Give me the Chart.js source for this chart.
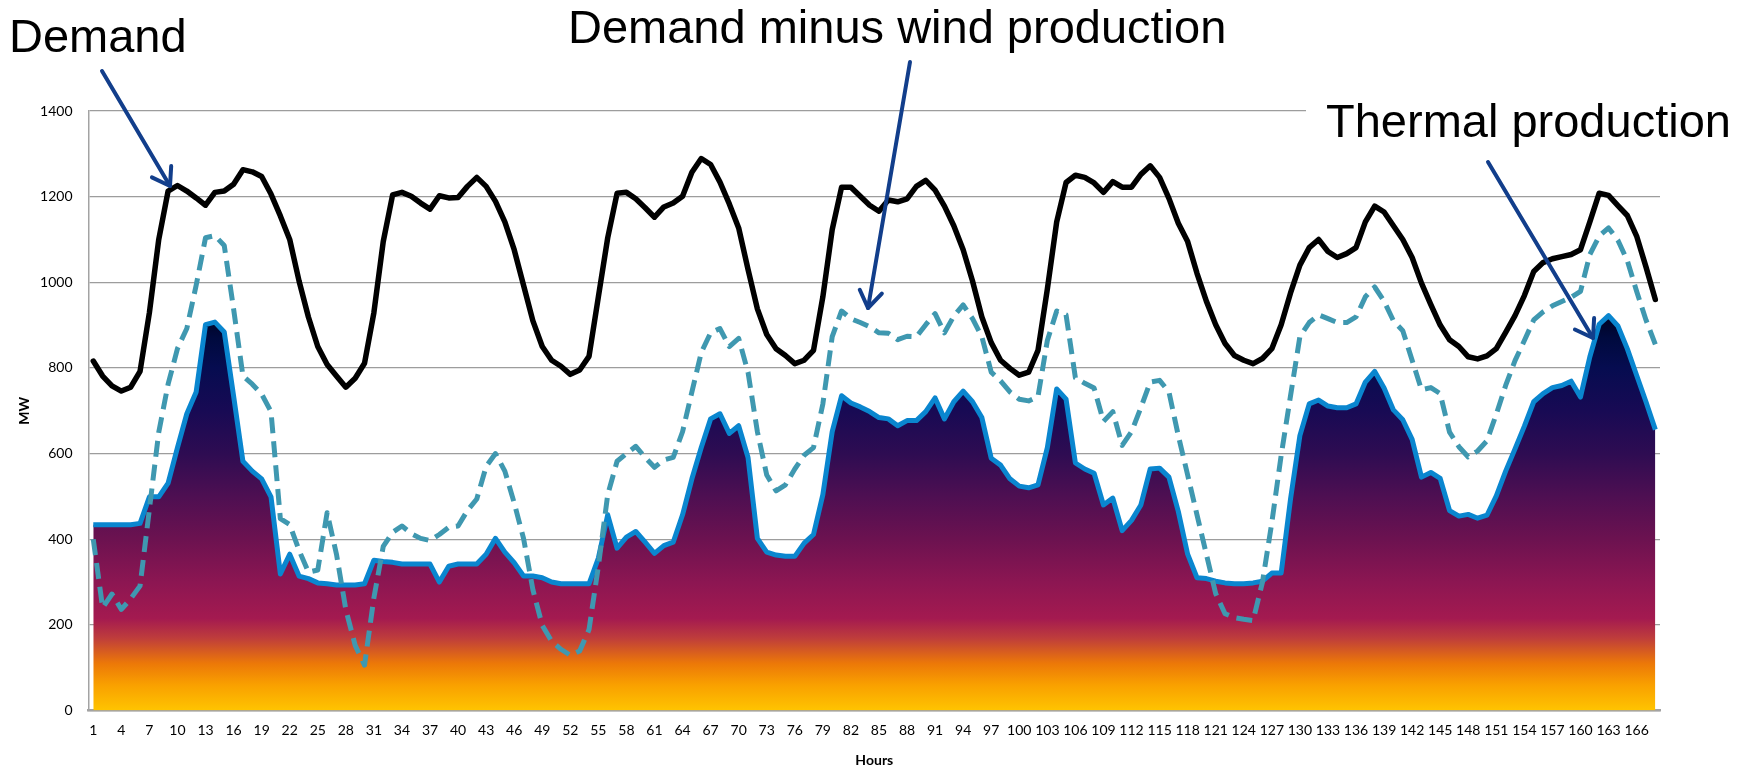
<!DOCTYPE html>
<html>
<head>
<meta charset="utf-8">
<title>Demand, demand minus wind production and thermal production</title>
<script src="https://cdn.jsdelivr.net/npm/chart.js@4.4.1/dist/chart.umd.min.js"></script>
<style>
  html, body { margin: 0; padding: 0; background: #ffffff; }
  #wrap { position: relative; width: 1756px; height: 769px; }
</style>
</head>
<body>
<div id="wrap"><canvas id="chart"></canvas></div>
<script>
// Hourly categories for one week
const hours = Array.from({ length: 168 }, (_, i) => String(i + 1));

// Total demand (MW)
const demand = [
  816, 781, 758, 746, 755, 792, 929, 1100, 1213, 1226, 1213, 1197, 1180, 1210, 1213, 1229, 1263, 1258, 1247, 1206,
  1155, 1100, 1003, 919, 850, 808, 781, 755, 776, 811, 929, 1095, 1204, 1210, 1201, 1185, 1171, 1202, 1197, 1198,
  1224, 1245, 1224, 1189, 1141, 1076, 993, 910, 850, 818, 804, 785, 795, 827, 966, 1104, 1208, 1210, 1195, 1174,
  1152, 1176, 1185, 1201, 1257, 1289, 1275, 1234, 1183, 1127, 1030, 938, 878, 845, 829, 810, 818, 841, 966, 1123,
  1222, 1222, 1201, 1180, 1166, 1192, 1188, 1195, 1224, 1238, 1215, 1178, 1132, 1076, 1003, 919, 859, 818, 799, 783,
  790, 841, 984, 1141, 1233, 1250, 1245, 1232, 1210, 1235, 1222, 1222, 1252, 1272, 1245, 1196, 1138, 1095, 1021, 956,
  901, 857, 829, 818, 810, 822, 845, 901, 975, 1040, 1081, 1100, 1072, 1058, 1067, 1081, 1141, 1178, 1164, 1132,
  1100, 1058, 998, 948, 900, 866, 850, 826, 821, 828, 845, 883, 922, 969, 1025, 1046, 1055, 1060, 1065, 1076,
  1141, 1208, 1203, 1179, 1156, 1108, 1036, 960
];

// Demand minus wind production (MW)
const netDemand = [
  400, 240, 272, 236, 261, 291, 470, 650, 762, 845, 892, 993, 1104, 1109, 1086, 938, 781, 762, 739, 698,
  448, 434, 374, 323, 328, 462, 365, 236, 152, 106, 263, 383, 416, 431, 413, 402, 397, 411, 428, 431,
  467, 494, 570, 600, 559, 485, 402, 282, 199, 162, 143, 129, 139, 189, 337, 504, 582, 600, 617, 591,
  568, 585, 591, 651, 744, 836, 882, 892, 850, 869, 790, 651, 550, 513, 527, 564, 596, 614, 716, 873,
  933, 915, 906, 896, 882, 881, 866, 874, 873, 901, 927, 882, 921, 947, 915, 873, 790, 770, 744, 727,
  723, 733, 864, 933, 924, 777, 764, 753, 675, 698, 619, 651, 707, 767, 771, 744, 642, 550, 457, 365,
  273, 226, 217, 213, 210, 300, 439, 596, 735, 873, 906, 924, 915, 906, 906, 919, 966, 989, 956, 910,
  887, 818, 749, 754, 740, 650, 616, 592, 606, 630, 692, 759, 817, 864, 912, 931, 945, 955, 965, 979,
  1065, 1108, 1127, 1098, 1051, 979, 912, 855
];

// Thermal production (MW)
const thermal = [
  434, 434, 434, 434, 434, 437, 499, 499, 531, 614, 693, 744, 901, 907, 884, 735, 582, 559, 541, 499,
  319, 365, 314, 308, 298, 296, 293, 293, 293, 296, 351, 348, 346, 342, 342, 342, 342, 300, 337, 342,
  342, 342, 365, 402, 370, 345, 314, 314, 310, 300, 296, 296, 296, 296, 356, 457, 379, 405, 418, 393,
  367, 385, 393, 457, 541, 614, 681, 693, 647, 665, 591, 402, 370, 363, 360, 360, 391, 411, 504, 651,
  735, 718, 709, 698, 684, 681, 665, 677, 677, 698, 730, 681, 721, 746, 721, 684, 589, 573, 541, 524,
  520, 527, 614, 751, 727, 578, 564, 554, 480, 496, 420, 444, 480, 564, 566, 545, 465, 365, 310, 308,
  302, 298, 296, 296, 298, 302, 321, 321, 494, 642, 716, 725, 711, 707, 707, 716, 767, 792, 753, 702,
  679, 633, 545, 556, 542, 467, 454, 458, 449, 456, 501, 559, 611, 664, 721, 740, 754, 759, 769, 732,
  826, 902, 922, 898, 845, 783, 721, 656
];

// Value axis ticks (MW) and spacing of the hour labels
const yTicks = [0, 200, 400, 600, 800, 1000, 1200, 1400];
const hourLabelStep = 3;

// Colour ramp of the thermal area, keyed on MW
const fillStops = [
  [0, 'rgb(255,196,0)'], [60, 'rgb(249,160,0)'], [110, 'rgb(236,120,8)'], [170, 'rgb(190,60,60)'],
  [215, 'rgb(164,26,80)'], [300, 'rgb(140,22,82)'], [400, 'rgb(108,18,80)'], [500, 'rgb(78,15,82)'],
  [600, 'rgb(46,12,82)'], [700, 'rgb(24,10,84)'], [800, 'rgb(6,12,80)'], [870, 'rgb(0,10,62)'], [940, 'rgb(0,0,25)']
];

function thermalFill(context) {
  const chart = context.chart;
  if (!chart.chartArea) return 'rgba(0,0,0,0)';
  const y = chart.scales.y;
  const lo = fillStops[0][0], hi = fillStops[fillStops.length - 1][0];
  const g = chart.ctx.createLinearGradient(0, y.getPixelForValue(lo), 0, y.getPixelForValue(hi));
  fillStops.forEach(([v, col]) => g.addColorStop((v - lo) / (hi - lo), col));
  return g;
}

// Callout texts and their arrows (canvas pixels)
const callouts = [
  { text: 'Demand', x: 9, y: 52, arrow: [102, 71, 170, 186] },
  { text: 'Demand minus wind production', x: 568, y: 43, arrow: [910, 62, 868, 308] },
  { text: 'Thermal production', x: 1326, y: 137, arrow: [1488, 162, 1593, 338] }
];

const calloutPlugin = {
  id: 'callouts',
  beforeDatasetsDraw(chart) {
    // white text box behind "Thermal production" hides the end of the top gridline
    const c = chart.ctx;
    c.save();
    c.fillStyle = '#ffffff';
    c.fillRect(1306, 100, chart.width - 1306, 24);
    c.restore();
  },
  afterDraw(chart) {
    const c = chart.ctx;
    c.save();
    c.font = '47px "Liberation Sans", Arial, sans-serif';
    c.fillStyle = '#000000';
    c.textBaseline = 'alphabetic';
    c.textAlign = 'left';
    callouts.forEach(o => c.fillText(o.text, o.x, o.y));

    c.strokeStyle = '#123e8b';
    c.lineWidth = 4;
    c.lineCap = 'round';
    c.lineJoin = 'round';
    callouts.forEach(o => {
      const [x0, y0, x1, y1] = o.arrow;
      const ang = Math.atan2(y0 - y1, x0 - x1);
      const len = 20, spread = 34 * Math.PI / 180;
      c.beginPath();
      c.moveTo(x0, y0);
      c.lineTo(x1, y1);
      c.stroke();
      c.beginPath();
      c.moveTo(x1 + len * Math.cos(ang + spread), y1 + len * Math.sin(ang + spread));
      c.lineTo(x1, y1);
      c.lineTo(x1 + len * Math.cos(ang - spread), y1 + len * Math.sin(ang - spread));
      c.stroke();
    });
    c.restore();
  }
};

new Chart(document.getElementById('chart'), {
  type: 'line',
  data: {
    labels: hours,
    datasets: [
      {
        label: 'Demand', data: demand,
        borderColor: '#000000', borderWidth: 5.5, fill: false,
        borderJoinStyle: 'round', borderCapStyle: 'round'
      },
      {
        label: 'Demand minus wind production', data: netDemand,
        borderColor: '#3f98b0', borderWidth: 5, borderDash: [16, 8], fill: false,
        borderJoinStyle: 'round'
      },
      {
        label: 'Thermal production', data: thermal,
        borderColor: '#0a86cf', borderWidth: 5, fill: 'origin', backgroundColor: thermalFill,
        borderJoinStyle: 'round'
      }
    ]
  },
  options: {
    responsive: true,
    maintainAspectRatio: false,
    animation: false,
    layout: { padding: { left: 0, right: 96, top: 111, bottom: 0 } },
    plugins: { legend: { display: false }, tooltip: { enabled: false } },
    elements: { point: { radius: 0 }, line: { tension: 0 } },
    scales: {
      x: {
        type: 'category',
        offset: true,
        grid: { display: false, drawTicks: false },
        border: { display: true, color: '#a3a3a3', width: 2.5 },
        ticks: {
          autoSkip: false, maxRotation: 0, minRotation: 0, padding: 12, color: '#000000',
          font: { family: 'Lato', size: 14 },
          callback(value, index) { return index % hourLabelStep === 0 ? this.getLabelForValue(value) : ''; }
        },
        title: {
          display: true, text: 'Hours', color: '#000000',
          font: { family: 'Lato', size: 14, weight: 'bold' },
          padding: { top: 0, bottom: 0.6 }
        },
        afterFit(scale) { scale.height = 58.5; }
      },
      y: {
        min: 0, max: 1400,
        afterBuildTicks(scale) { scale.ticks = yTicks.map(v => ({ value: v })); },
        grid: { color: '#9d9d9d', lineWidth: 1.3, drawTicks: false },
        border: { display: true, color: '#a3a3a3', width: 1.5 },
        ticks: {
          padding: 16, color: '#000000', font: { family: 'Lato', size: 14 },
          callback(value) { return String(value); }
        },
        title: {
          display: true, text: 'MW', color: '#000000',
          font: { family: 'Lato', size: 14, weight: 'bold' },
          padding: { top: 15.6, bottom: 0 }
        },
        afterFit(scale) { scale.width = 88.6; }
      }
    }
  },
  plugins: [calloutPlugin]
});
</script>
</body>
</html>
